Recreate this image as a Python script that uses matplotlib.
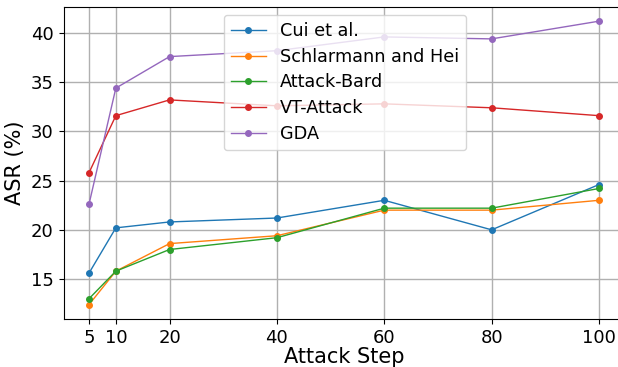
import matplotlib
matplotlib.use("Agg")
import matplotlib.pyplot as plt

steps = [5, 10, 20, 40, 60, 80, 100]
cui = [15.6, 20.2, 20.8, 21.2, 23.0, 20.0, 24.6]
schlarmann = [12.4, 15.8, 18.6, 19.4, 22.0, 22.0, 23.0]
attack_bard = [13.0, 15.8, 18.0, 19.2, 22.2, 22.2, 24.2]
vt_attack = [25.8, 31.6, 33.2, 32.6, 32.8, 32.4, 31.6]
gda = [22.6, 34.4, 37.6, 38.2, 39.6, 39.4, 41.2]

series = [
    ("Cui et al.", cui),
    ("Schlarmann and Hei", schlarmann),
    ("Attack-Bard", attack_bard),
    ("VT-Attack", vt_attack),
    ("GDA", gda),
]

fig = plt.figure(figsize=(6.18, 3.67), dpi=100)
# axes runs a little past the right edge, as in the cropped original
ax = fig.add_axes([63.5 / 618, 1 - 318.8 / 367, 561 / 618, 311.8 / 367])
for name, vals in series:
    ax.plot(steps, vals, marker="o", markersize=4, linewidth=1, label=name)

ax.set_xticks(steps)
ax.tick_params(labelsize=13)
ax.set_xlabel("Attack Step", fontsize=15, labelpad=0.5)
ax.set_ylabel("ASR (%)", fontsize=15)
ax.grid(True, linewidth=1)
ax.legend(fontsize=12.7, loc="upper left", bbox_to_anchor=(0.27, 1.003),
          labelspacing=0.44)

fig.savefig("out.png", dpi=100)
